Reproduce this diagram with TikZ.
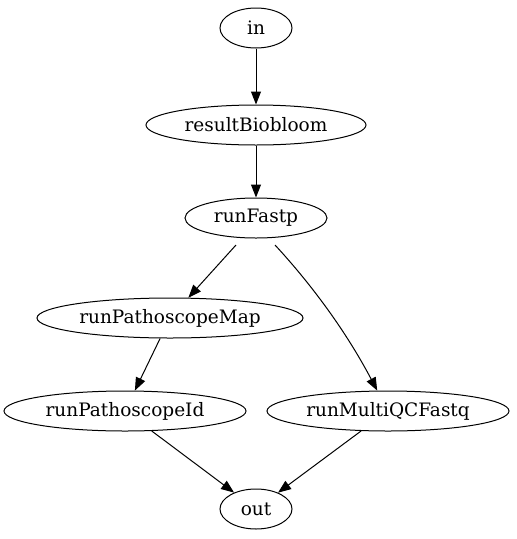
\documentclass[tikz,border=0pt]{standalone}
\usepackage{fontspec}
\setmainfont{DejaVu Serif}
\usetikzlibrary{arrows.meta,shapes.geometric}
\begin{document}
\begin{tikzpicture}[x=1pt,y=-1pt,
  gnode/.style={draw,ellipse,inner sep=0pt,minimum height=40pt,font=\fontsize{18.5}{21}\selectfont,line width=1pt},
  edge/.style={draw,line width=1pt,-{Triangle[length=13pt,width=10pt]}}]
\useasboundingbox (0,0) rectangle (517,539);
\node[gnode,minimum width=72pt] (in) at (256,28) {in};
\node[gnode,minimum width=220pt] (rb) at (256,125) {resultBiobloom};
\node[gnode,minimum width=142pt] (rf) at (256,218) {runFastp};
\node[gnode,minimum width=266pt] (pm) at (170,318) {runPathoscopeMap};
\node[gnode,minimum width=242pt] (pi) at (125,411) {runPathoscopeId};
\node[gnode,minimum width=242pt] (mq) at (388,411) {runMultiQCFastq};
\node[gnode,minimum width=72pt] (out) at (256,509) {out};
\draw[edge] (in) -- (rb);
\draw[edge] (rb) -- (rf);
\draw[edge] (236,245) -- (pm);
\draw[edge] (275,245) .. controls (300,272) and (340,320) .. (mq);
\draw[edge] (pm) -- (pi);
\draw[edge] (pi) -- (out);
\draw[edge] (mq) -- (out);
\end{tikzpicture}
\end{document}
